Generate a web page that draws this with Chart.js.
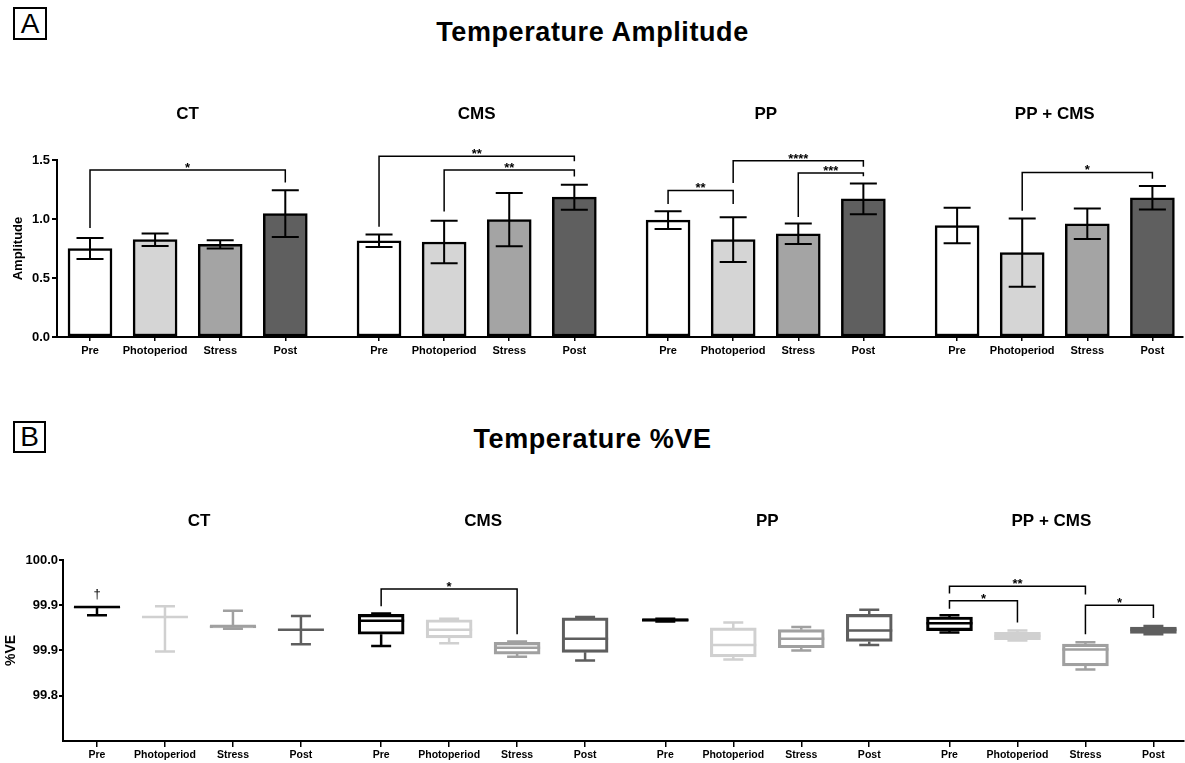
<!DOCTYPE html>
<html>
<head>
<meta charset="utf-8">
<script src="https://cdn.jsdelivr.net/npm/chart.js@4.4.0/dist/chart.umd.min.js"></script>
<style>
html, body { margin: 0; padding: 0; background: #fff; }
body { width: 1185px; height: 763px; position: relative; overflow: hidden; font-family: 'Liberation Sans', Arial, sans-serif; }
.panel { position: absolute; left: 0; }
.tag { position: absolute; border: 2px solid #000; box-sizing: border-box; font: 28px 'Liberation Sans', Arial, sans-serif; text-align: center; color: #000; }
.title { position: absolute; left: 0; width: 1185px; text-align: center; font-weight: bold; font-size: 27px; letter-spacing: 0.6px; line-height: 1; color: #000; }
</style>
</head>
<body>
<div class="tag" style="left:13px;top:7px;width:34px;height:33px;line-height:29px;">A</div>
<div class="title" style="top:19px;">Temperature Amplitude</div>
<div class="panel" style="top:0;"><canvas id="chart-amp" width="1185" height="390"></canvas></div>

<div class="tag" style="left:13px;top:421px;width:33px;height:32px;line-height:28px;">B</div>
<div class="title" style="top:426px;">Temperature %VE</div>
<div class="panel" style="top:390px;"><canvas id="chart-ve" width="1185" height="373"></canvas></div>

<script>
const GROUPS = ['CT', 'CMS', 'PP', 'PP + CMS'];
const PHASES = ['Pre', 'Photoperiod', 'Stress', 'Post'];

// A: amplitude, mean and error, in order CT, CMS, PP, PP + CMS (Pre, Photoperiod, Stress, Post)
const AMP_MEAN = [0.75, 0.825, 0.785, 1.045,  0.815, 0.805, 0.995, 1.185,  0.99, 0.825, 0.875, 1.17,  0.945, 0.715, 0.96, 1.18];
const AMP_ERR  = [0.088, 0.053, 0.034, 0.198,  0.053, 0.18, 0.225, 0.106,  0.075, 0.19, 0.087, 0.13,  0.15, 0.29, 0.13, 0.1];
const AMP_TICKS = [0, 0.5, 1.0, 1.5];
// brackets: [from, to, line level, left end, right end, label]
const AMP_SIG = [
  [0, 3, 1.415, 0.923, 1.31, '*'],
  [4, 7, 1.531, 0.934, 1.49, '**'],
  [5, 7, 1.415, 1.064, 1.36, '**'],
  [8, 9, 1.242, 1.127, 1.127, '**'],
  [9, 11, 1.494, 1.305, 1.443, '****'],
  [10, 11, 1.39, 1.016, 1.362, '***'],
  [13, 15, 1.395, 1.07, 1.342, '*']
];

// B: %VE box plots [max, q3, median, q1, min]
const VE_BOX = [
  [99.948, 99.948, 99.948, 99.947, 99.939],
  [99.949, 99.937, 99.937, 99.937, 99.899],
  [99.944, 99.927, 99.927, 99.925, 99.924],
  [99.938, 99.923, 99.923, 99.923, 99.907],
  [99.941, 99.940, 99.933, 99.918, 99.905],
  [99.935, 99.934, 99.923, 99.914, 99.908],
  [99.910, 99.909, 99.903, 99.896, 99.893],
  [99.937, 99.936, 99.913, 99.898, 99.889],
  [99.935, 99.935, 99.934, 99.932, 99.932],
  [99.931, 99.925, 99.906, 99.893, 99.890],
  [99.926, 99.923, 99.913, 99.903, 99.900],
  [99.945, 99.940, 99.922, 99.910, 99.906],
  [99.939, 99.937, 99.930, 99.922, 99.920],
  [99.922, 99.920, 99.916, 99.912, 99.911],
  [99.909, 99.907, 99.901, 99.883, 99.879],
  [99.927, 99.926, 99.923, 99.919, 99.918]
];
const VE_TICKS = [99.85, 99.90, 99.95, 100.0];
const VE_TICK_LABELS = ['99.8', '99.9', '99.9', '100.0'];
const VE_SIG = [
  [4, 6, 99.968, 99.949, 99.918, '*'],
  [12, 14, 99.971, 99.963, 99.962, '**'],
  [12, 13, 99.955, 99.946, 99.931, '*'],
  [14, 15, 99.950, 99.918, 99.936, '*']
];
const VE_DAGGER = [0, 99.962, '†'];

const BAR_FILL = ['#ffffff', '#d5d5d5', '#a4a4a4', '#5f5f5f'];
const BOX_LINE = ['#000000', '#d0d0d0', '#a0a0a0', '#5e5e5e'];

Chart.defaults.color = '#000';
Chart.defaults.font.family = "'Liberation Sans', Arial, sans-serif";
Chart.defaults.font.weight = 'bold';

const posA = GROUPS.flatMap((g, gi) => PHASES.map((p, pi) => gi * 4.44 + pi));
const posB = GROUPS.flatMap((g, gi) => PHASES.map((p, pi) => gi * 4.18 + pi));

function drawBrackets(ctx, x, y, pos, list) {
  ctx.strokeStyle = '#000';
  ctx.fillStyle = '#000';
  ctx.lineWidth = 1.5;
  ctx.font = "bold 13px 'Liberation Sans', Arial, sans-serif";
  ctx.textAlign = 'center';
  ctx.textBaseline = 'alphabetic';
  list.forEach(([a, b, lvl, ea, eb, lab]) => {
    const xa = x.getPixelForValue(pos[a]), xb = x.getPixelForValue(pos[b]);
    const yl = y.getPixelForValue(lvl);
    ctx.beginPath();
    ctx.moveTo(xa, y.getPixelForValue(ea));
    ctx.lineTo(xa, yl);
    ctx.lineTo(xb, yl);
    ctx.lineTo(xb, y.getPixelForValue(eb));
    ctx.stroke();
    ctx.fillText(lab, (xa + xb) / 2, yl + 2);
  });
}

function drawGroupNames(ctx, x, pos, base) {
  ctx.fillStyle = '#000';
  ctx.font = "bold 17px 'Liberation Sans', Arial, sans-serif";
  ctx.textAlign = 'center';
  ctx.textBaseline = 'alphabetic';
  GROUPS.forEach((g, gi) => {
    const c = (x.getPixelForValue(pos[gi * 4]) + x.getPixelForValue(pos[gi * 4 + 3])) / 2;
    ctx.fillText(g, c, base);
  });
}

function xAxis(pos, min, max, height, tickLen, pad, size) {
  return {
    type: 'linear', min: min, max: max, offset: false,
    afterBuildTicks: s => { s.ticks = pos.map(v => ({ value: v })); },
    afterFit: s => { s.height = height; },
    grid: { display: true, drawOnChartArea: false, drawTicks: true, tickLength: tickLen, color: '#000', lineWidth: 1.5, offset: false },
    border: { display: true, color: '#000', width: 2 },
    ticks: { autoSkip: false, maxRotation: 0, padding: pad, font: { size: size, weight: 'bold' }, callback: (v, i) => PHASES[i % 4] }
  };
}

const ampOverlay = {
  id: 'ampOverlay',
  afterDatasetsDraw(chart) {
    const { ctx, scales: { x, y } } = chart;
    ctx.save();
    ctx.strokeStyle = '#000';
    ctx.lineWidth = 2;
    AMP_MEAN.forEach((m, i) => {
      const px = x.getPixelForValue(posA[i]);
      const top = y.getPixelForValue(m + AMP_ERR[i]), bot = y.getPixelForValue(m - AMP_ERR[i]);
      ctx.beginPath();
      ctx.moveTo(px, top); ctx.lineTo(px, bot);
      ctx.moveTo(px - 13.5, top); ctx.lineTo(px + 13.5, top);
      ctx.moveTo(px - 13.5, bot); ctx.lineTo(px + 13.5, bot);
      ctx.stroke();
    });
    drawBrackets(ctx, x, y, posA, AMP_SIG);
    drawGroupNames(ctx, x, posA, 119);
    ctx.restore();
  }
};

new Chart('chart-amp', {
  type: 'bar',
  data: {
    datasets: [{
      data: posA.map((p, i) => ({ x: p, y: AMP_MEAN[i] })),
      backgroundColor: posA.map((p, i) => BAR_FILL[i % 4]),
      borderColor: '#000', borderWidth: 2.5, borderSkipped: false, barThickness: 44
    }]
  },
  options: {
    responsive: false, animation: false,
    layout: { padding: { top: 160, left: 0, right: 2, bottom: 13 } },
    plugins: { legend: { display: false }, tooltip: { enabled: false } },
    scales: {
      x: xAxis(posA, -0.507, 16.79, 40, 4, 3, 11),
      y: {
        min: 0, max: 1.5,
        afterBuildTicks: s => { s.ticks = AMP_TICKS.map(v => ({ value: v })); },
        afterFit: s => { s.width = 57; },
        grid: { drawOnChartArea: false, drawTicks: true, tickLength: 5, color: '#000', lineWidth: 2 },
        border: { display: true, color: '#000', width: 2 },
        ticks: { padding: 2, font: { size: 13, weight: 'bold' }, callback: v => v.toFixed(1) },
        title: { display: true, text: 'Amplitude', font: { size: 13, weight: 'bold' }, padding: { top: 11, bottom: 0 } }
      }
    }
  },
  plugins: [ampOverlay]
});

const veOverlay = {
  id: 'veOverlay',
  afterDatasetsDraw(chart) {
    const { ctx, scales: { x, y } } = chart;
    ctx.save();
    ctx.lineWidth = 2.5;
    ctx.lineCap = 'butt';
    VE_BOX.forEach(([mx, q3, med, q1, mn], i) => {
      const px = x.getPixelForValue(posB[i]);
      ctx.strokeStyle = BOX_LINE[i % 4];
      ctx.beginPath();
      ctx.moveTo(px, y.getPixelForValue(mx)); ctx.lineTo(px, y.getPixelForValue(q3));
      ctx.moveTo(px, y.getPixelForValue(q1)); ctx.lineTo(px, y.getPixelForValue(mn));
      ctx.moveTo(px - 10, y.getPixelForValue(mx)); ctx.lineTo(px + 10, y.getPixelForValue(mx));
      ctx.moveTo(px - 10, y.getPixelForValue(mn)); ctx.lineTo(px + 10, y.getPixelForValue(mn));
      ctx.moveTo(px - 23, y.getPixelForValue(med)); ctx.lineTo(px + 23, y.getPixelForValue(med));
      ctx.stroke();
    });
    drawBrackets(ctx, x, y, posB, VE_SIG);
    ctx.font = "13px 'Liberation Sans', Arial, sans-serif";
    ctx.textBaseline = 'middle';
    ctx.fillText(VE_DAGGER[2], x.getPixelForValue(posB[VE_DAGGER[0]]), y.getPixelForValue(VE_DAGGER[1]));
    drawGroupNames(ctx, x, posB, 136);
    ctx.restore();
  }
};

new Chart('chart-ve', {
  type: 'bar',
  data: {
    datasets: [{
      data: posB.map((p, i) => ({ x: p, y: [VE_BOX[i][3], VE_BOX[i][1]] })),
      backgroundColor: 'rgba(255,255,255,0)',
      borderColor: posB.map((p, i) => BOX_LINE[i % 4]),
      borderWidth: 2.5, borderSkipped: false, barThickness: 46
    }]
  },
  options: {
    responsive: false, animation: false,
    layout: { padding: { top: 170, left: 0, right: 1, bottom: 0 } },
    plugins: { legend: { display: false }, tooltip: { enabled: false } },
    scales: {
      x: xAxis(posB, -0.5, 15.99, 22, 6, 2, 10.5),
      y: {
        min: 99.8, max: 100.0,
        afterBuildTicks: s => { s.ticks = VE_TICKS.map(v => ({ value: v })); },
        afterFit: s => { s.width = 63; },
        grid: { drawOnChartArea: false, drawTicks: true, tickLength: 4, color: '#000', lineWidth: 2 },
        border: { display: true, color: '#000', width: 2 },
        ticks: { padding: 1, font: { size: 13, weight: 'bold' }, callback: (v, i) => VE_TICK_LABELS[i] },
        title: { display: true, text: '%VE', font: { size: 14, weight: 'bold' }, padding: { top: 3, bottom: 0 } }
      }
    }
  },
  plugins: [veOverlay]
});
</script>
</body>
</html>
